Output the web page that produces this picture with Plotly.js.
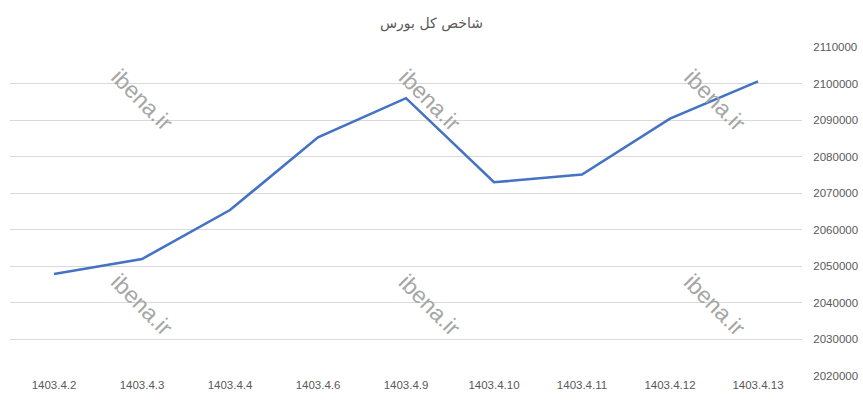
<!DOCTYPE html>
<html>
<head>
<meta charset="utf-8">
<script src="https://cdn.plot.ly/plotly-3.0.1.min.js"></script>
<style>
  html, body { margin: 0; padding: 0; background: #fff; }
  #chart { width: 863px; height: 404px; }
</style>
</head>
<body>
<div id="chart"></div>
<script>
// dates (Persian calendar) and index values
const dates = ["1403.4.2", "1403.4.3", "1403.4.4", "1403.4.6", "1403.4.9",
               "1403.4.10", "1403.4.11", "1403.4.12", "1403.4.13"];
const indexValues = [2047900, 2052000, 2065400, 2085300, 2096000,
                     2073000, 2075100, 2090400, 2100600];
const yTicks = [2020000, 2030000, 2040000, 2050000, 2060000,
                2070000, 2080000, 2090000, 2100000, 2110000];

const watermarkX = [0.167, 0.530, 0.890];
const watermarkY = [0.838, 0.216];

let watermarks = [];
for (const wy of watermarkY) {
    for (const wx of watermarkX) {
        watermarks.push({
            text: "ibena.ir",
            xref: "paper", yref: "paper",
            x: wx, y: wy,
            xanchor: "center", yanchor: "middle",
            showarrow: false,
            textangle: 45,
            font: { family: "Liberation Sans, Arial", size: 23, color: "#a6a6a6" },
        });
    }
}

let trace = {
    x: dates,
    y: indexValues,
    type: "scatter",
    mode: "lines",
    line: { color: "#4472C4", width: 2.6 },
    hoverinfo: "x+y",
};

let layout = {
    width: 863,
    height: 404,
    margin: { l: 10, r: 61, t: 47, b: 28 },
    paper_bgcolor: "#ffffff",
    plot_bgcolor: "#ffffff",
    showlegend: false,
    title: {
        text: "شاخص کل بورس",
        x: 0.5,
        xanchor: "center",
        y: 0.955,
        font: { family: "DejaVu Sans, Tahoma", size: 14, color: "#595959" },
    },
    xaxis: {
        type: "category",
        range: [-0.5, 8.5],
        showgrid: false,
        zeroline: false,
        showline: false,
        ticks: "",
        tickfont: { family: "Liberation Sans, Arial", size: 11.5, color: "#595959" },
        fixedrange: true,
    },
    yaxis: {
        side: "right",
        range: [2020000, 2110000],
        tickvals: yTicks,
        ticktext: yTicks.map(String),
        showgrid: true,
        gridcolor: "#d9d9d9",
        gridwidth: 1,
        zeroline: false,
        showline: false,
        ticks: "outside",
        ticklen: 8,
        tickcolor: "rgba(0,0,0,0)",
        tickfont: { family: "Liberation Sans, Arial", size: 11.5, color: "#595959" },
        fixedrange: true,
    },
    annotations: watermarks,
};

let config = { responsive: false, displayModeBar: false, staticPlot: true };
Plotly.newPlot("chart", [trace], layout, config);
</script>
</body>
</html>
